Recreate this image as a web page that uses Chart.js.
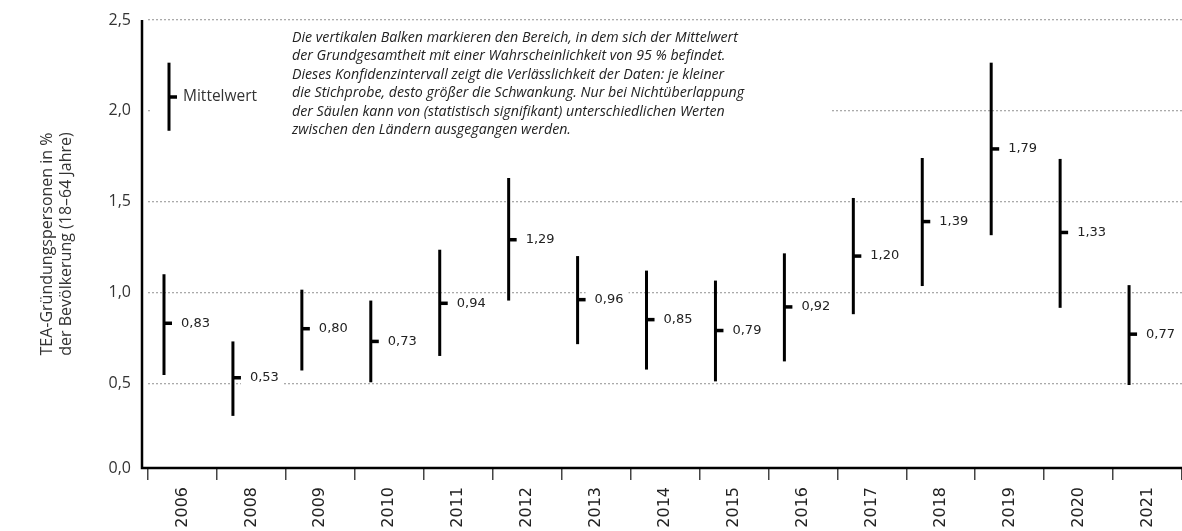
<!DOCTYPE html>
<html lang="de">
<head>
<meta charset="utf-8">
<title>TEA-Gründungspersonen 2006–2021</title>
<script src="https://cdn.jsdelivr.net/npm/chart.js@4.4.1/dist/chart.umd.min.js"></script>
<style>
  html, body { margin: 0; padding: 0; background: #fff; }
  canvas { display: block; }
</style>
</head>
<body>
<canvas id="tea-chart" width="1182" height="531"></canvas>
<script>
// data

const years = ['2006', '2008', '2009', '2010', '2011', '2012', '2013', '2014',
  '2015', '2016', '2017', '2018', '2019', '2020', '2021'];
const means = [0.83, 0.53, 0.80, 0.73, 0.94, 1.29, 0.96, 0.85, 0.79, 0.92, 1.20, 1.39, 1.79, 1.33, 0.77];
const lower = [0.545, 0.32, 0.57, 0.505, 0.65, 0.955, 0.715, 0.575, 0.51, 0.62, 0.88, 1.035, 1.315, 0.915, 0.49];
const upper = [1.10, 0.73, 1.015, 0.955, 1.235, 1.63, 1.20, 1.12, 1.065, 1.215, 1.52, 1.74, 2.265, 1.735, 1.04];
const yTicks = [0, 0.5, 1.0, 1.5, 2.0, 2.5];

// legend sample interval
const legendLow = 1.89;
const legendHigh = 2.265;
const legendMean = 2.076;

const noteLines = [
  'Die vertikalen Balken markieren den Bereich, in dem sich der Mittelwert',
  'der Grundgesamtheit mit einer Wahrscheinlichkeit von 95 % befindet.',
  'Dieses Konfidenzintervall zeigt die Verlässlichkeit der Daten: je kleiner',
  'die Stichprobe, desto größer die Schwankung. Nur bei Nichtüberlappung',
  'der Säulen kann von (statistisch signifikant) unterschiedlichen Werten',
  'zwischen den Ländern ausgegangen werden.'
];

// the x axis line sits a little above zero in the original
const yMin = 0.033;

const fmt = (v, d) => v.toFixed(d).replace('.', ',');

// plugin: confidence bars, mean marks, labels, note, axes

const intervalPlugin = {
  id: 'intervals',
  afterDatasetsDraw(chart) {
    const {ctx, chartArea, scales: {x, y}} = chart;
    const catW = (chartArea.right - chartArea.left) / years.length;
    const shift = 0.268 * catW;

    ctx.save();

    // note box covers the grid line behind it
    ctx.fillStyle = '#fff';
    ctx.fillRect(chartArea.left + 2, chartArea.top + 6, 680, 112);

    ctx.fillStyle = '#222';
    ctx.font = 'italic 14.2px "Open Sans"';
    ctx.textAlign = 'left';
    ctx.textBaseline = 'middle';
    noteLines.forEach((line, i) => ctx.fillText(line, 292, chartArea.top + 17.5 + i * 18.5));

    // legend
    const lx = chartArea.left + 21;
    ctx.strokeStyle = '#000';
    ctx.lineWidth = 3;
    ctx.beginPath();
    ctx.moveTo(lx, y.getPixelForValue(legendLow));
    ctx.lineTo(lx, y.getPixelForValue(legendHigh));
    ctx.stroke();
    const lm = y.getPixelForValue(legendMean);
    ctx.fillStyle = '#000';
    ctx.fillRect(lx, lm - 1.75, 8, 3.5);
    ctx.fillStyle = '#333';
    ctx.font = '15.5px "Open Sans"';
    ctx.fillText('Mittelwert', lx + 14, lm);

    // label backgrounds
    ctx.font = '13px "DejaVu Sans"';
    means.forEach((m, i) => {
      const bx = x.getPixelForValue(i) - shift;
      const w = ctx.measureText(fmt(m, 2)).width;
      ctx.fillStyle = '#fff';
      ctx.fillRect(bx + 8, y.getPixelForValue(m) - 8, w + 14, 16);
    });

    // bars
    ctx.strokeStyle = '#000';
    ctx.lineWidth = 3;
    means.forEach((m, i) => {
      const bx = x.getPixelForValue(i) - shift;
      ctx.beginPath();
      ctx.moveTo(bx, y.getPixelForValue(lower[i]));
      ctx.lineTo(bx, y.getPixelForValue(upper[i]));
      ctx.stroke();
      ctx.fillStyle = '#000';
      ctx.fillRect(bx, y.getPixelForValue(m) - 1.75, 8, 3.5);
      ctx.fillStyle = '#222';
      ctx.fillText(fmt(m, 2), bx + 17, y.getPixelForValue(m));
    });

    // axes
    const ax = chartArea.left - 6;
    ctx.lineWidth = 2.5;
    ctx.strokeStyle = '#000';
    ctx.beginPath();
    ctx.moveTo(ax, chartArea.top);
    ctx.lineTo(ax, chartArea.bottom);
    ctx.lineTo(chartArea.right, chartArea.bottom);
    ctx.stroke();

    ctx.restore();
  }
};

// chart

const teaChart = new Chart(document.getElementById('tea-chart'), {
  type: 'line',
  data: {
    labels: years,
    datasets: [{
      label: 'Mittelwert',
      data: means,
      showLine: false,
      pointRadius: 0
    }]
  },
  options: {
    responsive: false,
    animation: false,
    layout: {
      padding: {top: 20, right: 0, bottom: 0, left: 0}
    },
    plugins: {
      legend: {display: false},
      tooltip: {enabled: false}
    },
    scales: {
      x: {
        type: 'category',
        offset: true,
        afterFit: s => { s.height = 63; },
        border: {display: false},
        grid: {
          offset: true,
          drawOnChartArea: false,
          drawTicks: true,
          tickLength: 12,
          color: '#444',
          lineWidth: 1.5
        },
        ticks: {
          autoSkip: false,
          minRotation: 90,
          maxRotation: 90,
          padding: 7,
          color: '#222',
          font: {family: 'DejaVu Sans', size: 16}
        }
      },
      y: {
        min: yMin,
        max: 2.5,
        afterFit: s => {
          s.width = 148;
          s.paddingTop = 0;
          s.paddingBottom = 0;
        },
        afterBuildTicks: s => {
          s.ticks = yTicks.map(v => ({value: Math.max(v, yMin)}));
        },
        border: {display: false, dash: [2, 2]},
        grid: {
          drawTicks: false,
          color: '#aaaaaa',
          lineWidth: 1.3
        },
        ticks: {
          padding: 17,
          color: '#333',
          font: {family: 'Open Sans', size: 16},
          callback: v => fmt(v <= yMin ? 0 : v, 1)
        },
        title: {
          display: true,
          text: ['TEA-Gründungspersonen in %', 'der Bevölkerung (18–64 Jahre)'],
          color: '#333',
          font: {family: 'Open Sans', size: 16, lineHeight: 1.2},
          padding: {top: 38, bottom: 0}
        }
      }
    }
  },
  plugins: [intervalPlugin]
});
</script>
</body>
</html>
